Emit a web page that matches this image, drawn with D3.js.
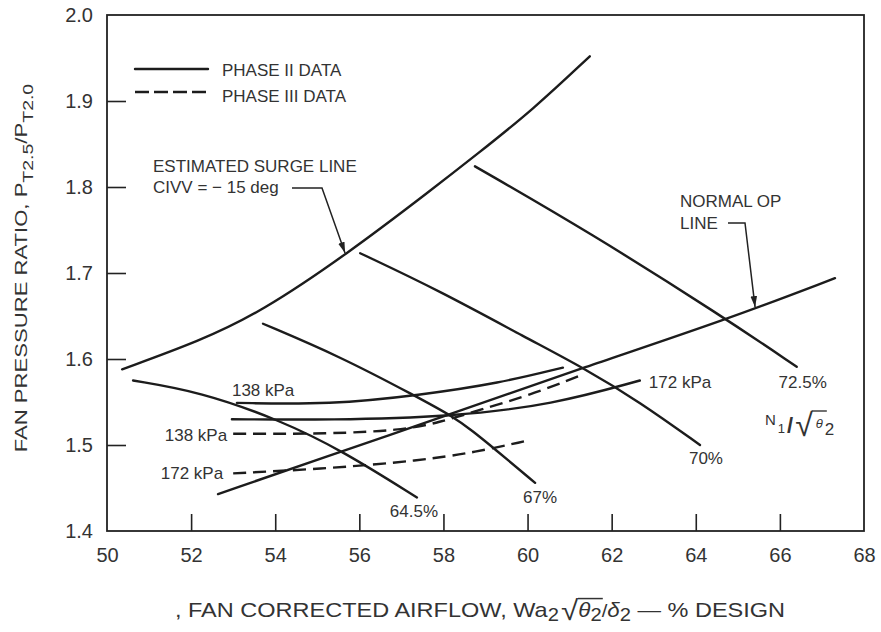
<!DOCTYPE html>
<head>
    <meta charset="utf-8">
    <title>Fan pressure ratio vs corrected airflow</title>
    <style>
        body { margin: 0; background: #fff; }
        svg text { font-family: "Liberation Sans", Arial, Helvetica, sans-serif; fill: #333; }
        .curve { fill: none; stroke: #1c1c1c; stroke-width: 2.4; stroke-linecap: round; }
        .dash { stroke-dasharray: 13,7; stroke-linecap: butt; }
        .lead { fill: none; stroke: #222; stroke-width: 1.5; }
    </style>
</head>
<body>

<svg width="881" height="632"></svg>

<script src="https://d3js.org/d3.v7.min.js"></script>

<script>

    // tick values
    var xLabels = [50, 52, 54, 56, 58, 60, 62, 64, 66, 68];
    var xTicks = [52, 54, 56, 58, 60, 62, 64, 66];
    var yLabels = [1.4, 1.5, 1.6, 1.7, 1.8, 1.9, 2.0];
    var yTicks = [1.5, 1.6, 1.7, 1.8, 1.9];

    // phase II data (solid), [airflow %, pressure ratio]
    var surgeLine = [[50.36, 1.588], [52.21, 1.621], [53.64, 1.654], [55.71, 1.722], [57.75, 1.798], [58.77, 1.837], [60.13, 1.890], [61.48, 1.952]];
    var normalOpLine = [[52.64, 1.443], [55.61, 1.493], [58.23, 1.537], [61.32, 1.590], [64.74, 1.646], [67.31, 1.694]];
    var speed645 = [[50.62, 1.575], [52.21, 1.562], [54.11, 1.529], [55.61, 1.493], [57.37, 1.439]];
    var speed67 = [[53.71, 1.641], [55.54, 1.603], [57.37, 1.556], [58.23, 1.533], [58.70, 1.516], [59.18, 1.497], [60.18, 1.456]];
    var speed70 = [[56.02, 1.723], [57.92, 1.679], [59.99, 1.624], [61.32, 1.590], [62.67, 1.550], [64.10, 1.500]];
    var speed725 = [[58.75, 1.824], [61.48, 1.747], [64.65, 1.649], [66.40, 1.591]];
    var phase2kPa138 = [[53.09, 1.549], [55.30, 1.547], [57.44, 1.558], [59.34, 1.572], [60.84, 1.590]];
    var phase2kPa172 = [[52.97, 1.530], [55.30, 1.529], [58.23, 1.533], [60.60, 1.547], [62.67, 1.575]];

    // phase III data (dashed)
    var phase3kPa138 = [[53.00, 1.513], [55.30, 1.513], [56.97, 1.517], [57.90, 1.526], [58.87, 1.541], [60.06, 1.558], [61.32, 1.582]];
    var phase3kPa172 = [[53.00, 1.467], [55.37, 1.473], [57.44, 1.482], [58.70, 1.491], [59.99, 1.505]];

    var svg = d3.select("svg");

    var x = d3.scaleLinear().domain([50, 68]).range([107, 864]);
    var y = d3.scaleLinear().domain([1.4, 2.0]).range([531, 15]);

    // hand drawn looking curves, so smooth them out
    var line = d3.line()
        .x(function(d) { return x(d[0]); })
        .y(function(d) { return y(d[1]); })
        .curve(d3.curveBasis);

    // arrow head for the leaders
    svg.append("defs").append("marker")
        .attr("id", "arrow")
        .attr("markerUnits", "userSpaceOnUse")
        .attr("viewBox", "0 0 10 6")
        .attr("refX", 10).attr("refY", 3)
        .attr("markerWidth", 11).attr("markerHeight", 7)
        .attr("orient", "auto")
        .append("path")
        .attr("d", "M0,0 L10,3 L0,6 Z")
        .attr("fill", "#222");

    // axis labels
    svg.append("g")
        .attr("transform", "translate(0,531)")
        .call(d3.axisBottom(x).tickValues(xLabels).tickSize(0).tickPadding(17))
        .call(function(g) { g.select(".domain").remove(); })
        .attr("font-size", 20).attr("font-family", null);

    svg.append("g")
        .attr("transform", "translate(107,0)")
        .call(d3.axisLeft(y).tickValues(yLabels).tickSize(0).tickPadding(14).tickFormat(d3.format(".1f")))
        .call(function(g) { g.select(".domain").remove(); })
        .attr("font-size", 20).attr("font-family", null);

    svg.selectAll(".tick text").attr("fill", "#4a4a4a");

    // inner ticks
    svg.append("g")
        .attr("transform", "translate(0,531)")
        .call(d3.axisBottom(x).tickValues(xTicks).tickSizeInner(-17).tickSizeOuter(0).tickFormat(""))
        .call(function(g) { g.select(".domain").remove(); g.selectAll("line").attr("stroke", "#222").attr("stroke-width", 1.6); });

    svg.append("g")
        .attr("transform", "translate(107,0)")
        .call(d3.axisLeft(y).tickValues(yTicks).tickSizeInner(-19).tickSizeOuter(0).tickFormat(""))
        .call(function(g) { g.select(".domain").remove(); g.selectAll("line").attr("stroke", "#222").attr("stroke-width", 1.6); });

    // frame
    svg.append("rect")
        .attr("x", x(50)).attr("y", y(2.0))
        .attr("width", x(68) - x(50)).attr("height", y(1.4) - y(2.0))
        .attr("fill", "none").attr("stroke", "#222").attr("stroke-width", 1.8);

    // curves
    var solid = [surgeLine, normalOpLine, speed645, speed67, speed70, speed725, phase2kPa138, phase2kPa172];
    var dashed = [phase3kPa138, phase3kPa172];

    svg.append("g").selectAll("path")
        .data(solid)
        .enter().append("path")
            .attr("class", "curve")
            .attr("d", line);

    svg.append("g").selectAll("path")
        .data(dashed)
        .enter().append("path")
            .attr("class", "curve dash")
            .attr("d", line);

    // curve labels, placed next to the curve ends
    function first(s) { return s[0]; }
    function last(s) { return s[s.length - 1]; }
    var labels = [
        { t: "64.5%", p: last(speed645), dx: -3, dy: 20, a: "middle" },
        { t: "67%", p: last(speed67), dx: 5, dy: 20, a: "middle" },
        { t: "70%", p: last(speed70), dx: 6, dy: 19, a: "middle" },
        { t: "72.5%", p: last(speed725), dx: 6, dy: 21, a: "middle" },
        { t: "172 kPa", p: last(phase2kPa172), dx: 9, dy: 7, a: "start" },
        { t: "138 kPa", p: first(phase2kPa138), dx: -5, dy: -7, a: "start" },
        { t: "138 kPa", p: first(phase3kPa138), dx: -6, dy: 7, a: "end" },
        { t: "172 kPa", p: first(phase3kPa172), dx: -10, dy: 6, a: "end" }
    ];
    svg.append("g").selectAll("text")
        .data(labels)
        .enter().append("text")
            .attr("x", function(d) { return x(d.p[0]) + d.dx; })
            .attr("y", function(d) { return y(d.p[1]) + d.dy; })
            .attr("text-anchor", function(d) { return d.a; })
            .attr("font-size", 17)
            .text(function(d) { return d.t; });

    // legend
    var legend = svg.append("g");
    legend.append("line").attr("class", "curve").attr("x1", 135).attr("x2", 208).attr("y1", 69).attr("y2", 69);
    legend.append("line").attr("class", "curve dash").attr("x1", 135).attr("x2", 208).attr("y1", 92).attr("y2", 92)
        .style("stroke-dasharray", "14,5");
    legend.append("text").attr("x", 222).attr("y", 76).attr("font-size", 17).text("PHASE II DATA");
    legend.append("text").attr("x", 222).attr("y", 102).attr("font-size", 17).text("PHASE III DATA");

    // surge line note
    svg.append("text").attr("x", 153).attr("y", 172).attr("font-size", 17).text("ESTIMATED SURGE LINE");
    svg.append("text").attr("x", 153).attr("y", 193).attr("font-size", 17).text("CIVV = \u2212 15 deg");
    svg.append("path").attr("class", "lead")
        .attr("d", "M292,188 H322 L" + x(55.66) + "," + (y(1.722) - 1))
        .attr("marker-end", "url(#arrow)");

    // normal op line note
    svg.append("text").attr("x", 680).attr("y", 207).attr("font-size", 17).text("NORMAL OP");
    svg.append("text").attr("x", 680).attr("y", 229).attr("font-size", 17).text("LINE");
    svg.append("path").attr("class", "lead")
        .attr("d", "M728,223 H745 L" + x(65.41) + "," + (y(1.658) - 2))
        .attr("marker-end", "url(#arrow)");

    // text built from pieces so the radical bar can be drawn
    function runText(g, x0, y0, parts) {
        var cx = x0, out = [];
        parts.forEach(function(p) {
            var t = g.append("text")
                .attr("x", cx)
                .attr("y", y0 + (p.dy || 0))
                .attr("font-size", p.size)
                .text(p.t);
            if (p.italic) t.attr("font-style", "italic");
            var w = t.node().getComputedTextLength();
            out.push({ x0: cx, x1: cx + w, node: t.node() });
            cx += w + (p.gap || 0);
        });
        return out;
    }

    // N1 / sqrt(theta2)
    var ng = svg.append("g");
    var nl = runText(ng, 765, 425, [
        { t: "N", size: 15, gap: 2 },
        { t: "1", size: 13, dy: 8, gap: 2 },
        { t: "/", size: 22, dy: 8, gap: 2 },
        { t: "\u221A", size: 32, dy: 11, gap: 3 },
        { t: "\u03B8", size: 13, italic: true, dy: 3, gap: 2 },
        { t: "2", size: 17, dy: 10 }
    ]);
    nl[2].node.setAttribute("font-weight", "bold");
    var rb = nl[3].node.getBBox();
    ng.append("line").attr("x1", rb.x + rb.width - 1.5).attr("x2", nl[5].x0 + 2)
        .attr("y1", rb.y + 4).attr("y2", rb.y + 4)
        .attr("stroke", "#333").attr("stroke-width", 1.4);

    // x axis title (slightly wide lettering as in the original)
    var xg = svg.append("g").attr("transform", "translate(175,0) scale(1.12,1)");
    var xt = runText(xg, 0, 617, [
        { t: ", FAN CORRECTED AIRFLOW, Wa", size: 21 },
        { t: "2", size: 18, dy: 4, gap: 2 },
        { t: "\u221A", size: 28, dy: 3 },
        { t: "\u03B8", size: 20, italic: true },
        { t: "2", size: 18, dy: 4 },
        { t: "/", size: 18 },
        { t: "\u03B4", size: 20, italic: true },
        { t: "2", size: 18, dy: 4 },
        { t: "\u00A0\u2014 % DESIGN", size: 21 }
    ]);
    var xb = xt[2].node.getBBox();
    xg.append("line").attr("x1", xb.x + xb.width - 1).attr("x2", xt[4].x1 + 1)
        .attr("y1", xb.y + 4).attr("y2", xb.y + 4)
        .attr("stroke", "#333").attr("stroke-width", 1.5);

    // y axis title
    var yt = svg.append("text")
        .attr("transform", "translate(27,268) rotate(-90) scale(1.3,1)")
        .attr("text-anchor", "middle")
        .attr("font-size", 17);
    yt.append("tspan").text("FAN PRESSURE RATIO, P");
    yt.append("tspan").attr("dy", 6).attr("font-size", 15).text("T2.5");
    yt.append("tspan").attr("dy", -6).text("/P");
    yt.append("tspan").attr("dy", 6).attr("font-size", 15).text("T2.0");

</script>
</body>
